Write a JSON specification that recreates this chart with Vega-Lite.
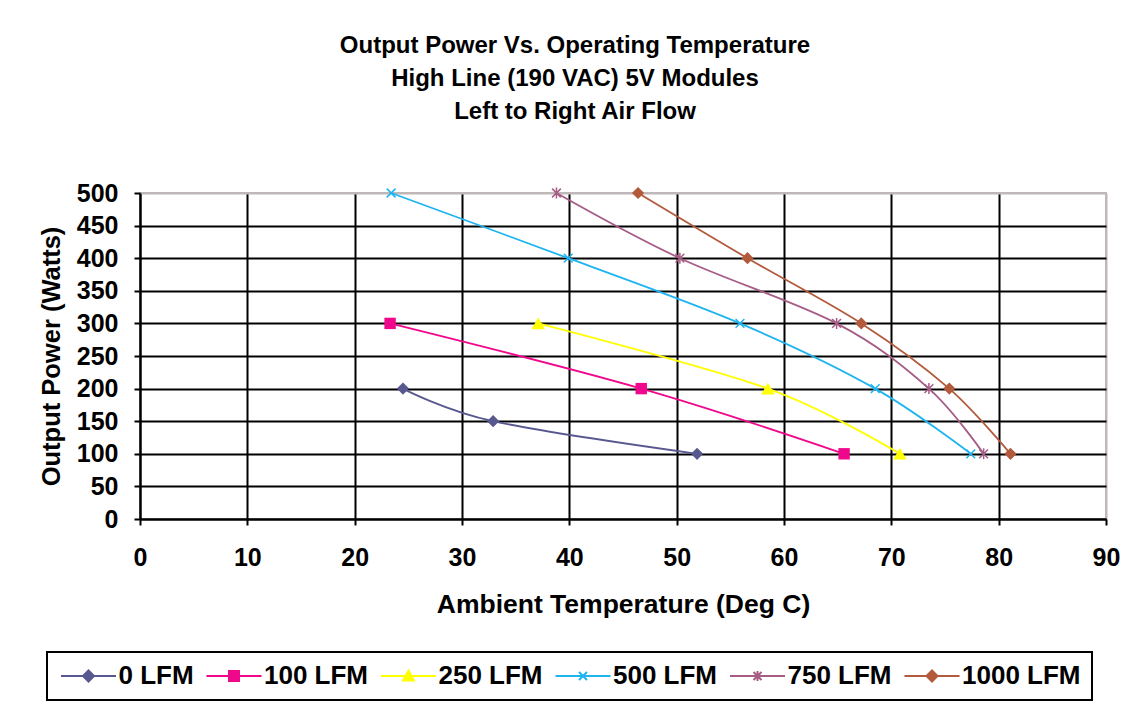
{
  "$schema": "https://vega.github.io/schema/vega-lite/v6.json",
  "width": 966,
  "height": 326,
  "autosize": {"type": "none"},
  "padding": {"left": 140, "top": 193, "right": 36, "bottom": 189},
  "background": "white",
  "title": {
    "text": ["Output Power Vs. Operating Temperature", "High Line (190 VAC) 5V Modules", "Left to Right Air Flow"],
    "fontSize": 24,
    "fontWeight": "bold",
    "font": "Liberation Sans",
    "color": "black",
    "lineHeight": 33,
    "anchor": "middle",
    "dx": -48,
    "offset": 57
  },
  "data": {
    "values": [
      {"series": "0 LFM", "temp": 24.5, "power": 200},
      {"series": "0 LFM", "temp": 32.9, "power": 150},
      {"series": "0 LFM", "temp": 51.9, "power": 100},
      {"series": "100 LFM", "temp": 23.3, "power": 300},
      {"series": "100 LFM", "temp": 46.7, "power": 200},
      {"series": "100 LFM", "temp": 65.6, "power": 100},
      {"series": "250 LFM", "temp": 37.1, "power": 300},
      {"series": "250 LFM", "temp": 58.5, "power": 200},
      {"series": "250 LFM", "temp": 70.8, "power": 100},
      {"series": "500 LFM", "temp": 23.4, "power": 500},
      {"series": "500 LFM", "temp": 39.9, "power": 400},
      {"series": "500 LFM", "temp": 55.9, "power": 300},
      {"series": "500 LFM", "temp": 68.5, "power": 200},
      {"series": "500 LFM", "temp": 77.4, "power": 100},
      {"series": "750 LFM", "temp": 38.8, "power": 500},
      {"series": "750 LFM", "temp": 50.3, "power": 400},
      {"series": "750 LFM", "temp": 64.9, "power": 300},
      {"series": "750 LFM", "temp": 73.5, "power": 200},
      {"series": "750 LFM", "temp": 78.6, "power": 100},
      {"series": "1000 LFM", "temp": 46.4, "power": 500},
      {"series": "1000 LFM", "temp": 56.6, "power": 400},
      {"series": "1000 LFM", "temp": 67.2, "power": 300},
      {"series": "1000 LFM", "temp": 75.4, "power": 200},
      {"series": "1000 LFM", "temp": 81.1, "power": 100}
    ]
  },
  "encoding": {
    "x": {
      "field": "temp", "type": "quantitative",
      "scale": {"domain": [0, 90], "nice": false, "zero": false},
      "axis": {
        "title": "Ambient Temperature (Deg C)",
        "titleFontSize": 26.5,
        "values": [0, 10, 20, 30, 40, 50, 60, 70, 80, 90],
        "labelFlush": false,
        "labelPadding": 20,
        "titlePadding": 21,
        "gridColor": {"condition": {"test": "datum.value === 90", "value": "#c0b8b8"}, "value": "black"}
      }
    },
    "y": {
      "field": "power", "type": "quantitative",
      "scale": {"domain": [0, 500], "nice": false},
      "axis": {
        "title": "Output Power (Watts)",
        "titleFontSize": 25.5,
        "values": [0, 50, 100, 150, 200, 250, 300, 350, 400, 450, 500],
        "labelFlush": false,
        "labelPadding": 16,
        "titlePadding": 12,
        "gridColor": {"condition": {"test": "datum.value === 500", "value": "#c0b8b8"}, "value": "black"}
      }
    }
  },
  "layer": [
    {
      "mark": {"type": "line", "interpolate": "cardinal", "strokeWidth": 1.8},
      "encoding": {
        "color": {
          "field": "series", "type": "nominal",
          "scale": {
            "domain": ["0 LFM", "100 LFM", "250 LFM", "500 LFM", "750 LFM", "1000 LFM"],
            "range": ["#585890", "#f0088c", "#ffff00", "#1eb4f0", "#a65c85", "#b35a3c"]
          },
          "legend": {
            "title": null,
            "orient": "none",
            "legendX": -93,
            "legendY": 459,
            "direction": "horizontal",
            "columns": 6,
            "columnPadding": 8.5,
            "padding": 11,
            "strokeColor": "black",
            "symbolSize": 400,
            "symbolOffset": 17.5,
            "labelOffset": 17,
            "labelFontSize": 26,
            "labelFontWeight": "bold",
            "labelColor": "black",
            "labelFont": "Liberation Sans",
            "encode": {
              "legend": {"update": {"strokeWidth": {"value": 2}}},
              "symbols": {
                "update": {
                  "shape": {"signal": "datum.value === '100 LFM' ? 'M-2.75,0H2.75M-0.5,-0.5H0.5V0.5H-0.5Z' : datum.value === '250 LFM' ? 'M-2.75,0H2.75M0,-0.55L0.55,0.45H-0.55Z' : datum.value === '500 LFM' ? 'M-2.75,0H2.75M-0.4,-0.4L0.4,0.4M-0.4,0.4L0.4,-0.4' : datum.value === '750 LFM' ? 'M-2.75,0H2.75M-0.4,-0.4L0.4,0.4M-0.4,0.4L0.4,-0.4M0,-0.5V0.5' : 'M-2.75,0H2.75M0,-0.55L0.55,0L0,0.55L-0.55,0Z'"},
                  "size": {"value": 400},
                  "fill": {"signal": "scale('color', datum.value)"},
                  "stroke": {"signal": "scale('color', datum.value)"},
                  "strokeWidth": {"value": 2},
                  "opacity": {"value": 1}
                }
              }
            }
          }
        }
      }
    },
    {
      "transform": [{"filter": "datum.series === '0 LFM'"}],
      "mark": {"type": "point", "filled": true, "shape": "diamond", "size": 150, "color": "#585890", "opacity": 1}
    },
    {
      "transform": [{"filter": "datum.series === '100 LFM'"}],
      "mark": {"type": "point", "filled": true, "shape": "square", "size": 130, "color": "#f0088c", "opacity": 1}
    },
    {
      "transform": [{"filter": "datum.series === '250 LFM'"}],
      "mark": {"type": "point", "filled": true, "shape": "triangle-up", "size": 180, "color": "#ffff00", "opacity": 1}
    },
    {
      "transform": [{"filter": "datum.series === '500 LFM'"}],
      "mark": {"type": "point", "filled": false, "shape": "M-0.8,-0.8L0.8,0.8M-0.8,0.8L0.8,-0.8", "size": 120, "strokeWidth": 1.5, "color": "#1eb4f0", "opacity": 1}
    },
    {
      "transform": [{"filter": "datum.series === '750 LFM'"}],
      "mark": {"type": "point", "filled": false, "shape": "M-0.8,-0.8L0.8,0.8M-0.8,0.8L0.8,-0.8M0,-1V1", "size": 120, "strokeWidth": 1.5, "color": "#a65c85", "opacity": 1}
    },
    {
      "transform": [{"filter": "datum.series === '1000 LFM'"}],
      "mark": {"type": "point", "filled": true, "shape": "diamond", "size": 150, "color": "#b35a3c", "opacity": 1}
    }
  ],
  "config": {
    "font": "Liberation Sans",
    "view": {"stroke": "#c0b8b8", "strokeWidth": 2},
    "axis": {
      "labelFont": "Liberation Sans",
      "labelFontSize": 25,
      "labelFontWeight": "bold",
      "labelColor": "black",
      "titleFont": "Liberation Sans",
      "titleFontSize": 25,
      "titleFontWeight": "bold",
      "titleColor": "black",
      "domainColor": "black",
      "domainWidth": 2,
      "tickColor": "black",
      "tickWidth": 2,
      "tickSize": 6,
      "gridWidth": 2,
      "gridOpacity": 1
    }
  }
}
